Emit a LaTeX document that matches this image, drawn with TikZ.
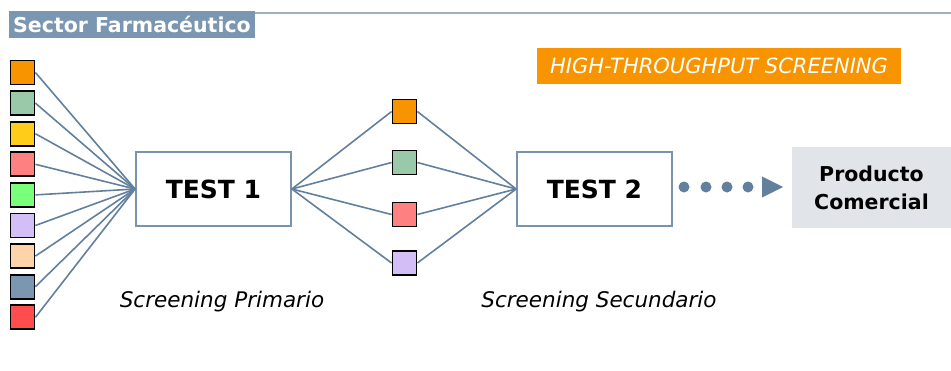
\documentclass[tikz,border=0pt]{standalone}
\usepackage{fontspec}
\setmainfont{DejaVu Sans}
\usetikzlibrary{positioning}

\definecolor{linie}{RGB}{98,128,158}
\definecolor{kopf}{RGB}{122,150,176}
\definecolor{kopflinie}{RGB}{158,176,194}
\definecolor{orange}{RGB}{247,148,0}
\definecolor{graugruen}{RGB}{153,201,168}
\definecolor{gelb}{RGB}{255,204,26}
\definecolor{rosa}{RGB}{255,128,128}
\definecolor{gruen}{RGB}{122,255,122}
\definecolor{lila}{RGB}{211,191,245}
\definecolor{pfirsich}{RGB}{255,211,168}
\definecolor{schiefer}{RGB}{122,150,176}
\definecolor{rot}{RGB}{255,77,77}
\definecolor{produkt}{RGB}{225,229,234}

\begin{document}
\begin{tikzpicture}[x=1pt,y=-1pt,
    probe/.style={draw=black, line width=1.8pt, minimum size=24pt, inner sep=0pt},
    testbox/.style={draw=linie!85, line width=1.8pt, fill=white, minimum width=155pt,
      minimum height=74pt, inner sep=0pt, font=\fontsize{25}{29}\selectfont\bfseries},
    verb/.style={draw=linie, line width=1.6pt},
    etikett/.style={font=\fontsize{21.5}{25}\selectfont\itshape}]

  \useasboundingbox (0,0) rectangle (951,370);

  % Kopfzeile
  \draw[kopflinie, line width=2.5pt] (255,13) -- (951,13);
  \node[fill=kopf, text=white, minimum width=246pt, minimum height=27pt, inner sep=0pt,
    font=\fontsize{20.5}{24}\selectfont\bfseries] (kopf) at (132,24.5) {Sector Farmacéutico};

  \node[fill=orange, text=white, minimum width=364pt, minimum height=36pt, inner sep=0pt,
    font=\fontsize{21}{25}\selectfont\itshape] (hts) at (719,66) {HIGH-THROUGHPUT SCREENING};

  % Tests
  \node[testbox] (test1) at (213.5,189) {TEST 1};
  \node[testbox] (test2) at (594.5,189) {TEST 2};

  \node[fill=produkt, minimum width=159pt, minimum height=81pt, inner sep=0pt, align=center,
    font=\fontsize{20.5}{28}\selectfont\bfseries] (prod) at (871.5,187.5) {Producto\\Comercial};

  % Proben links
  \foreach \farbe [count=\i] in {orange,graugruen,gelb,rosa,gruen,lila,pfirsich,schiefer,rot} {
    \node[probe, fill=\farbe] (sq\i) at (22.5,{72.5+30.6*(\i-1)}) {};
    \draw[verb] (sq\i.east) -- (test1.west);
  }

  % Proben Mitte
  \foreach \farbe/\y [count=\i] in {orange/111.5,graugruen/162.5,rosa/214.5,lila/263} {
    \node[probe, fill=\farbe] (mq\i) at (404.5,\y) {};
    \draw[verb] (test1.east) -- (mq\i.west);
    \draw[verb] (mq\i.east) -- (test2.west);
  }

  % Punkte und Pfeil
  \foreach \x in {684,706,727,748}
    \fill[linie] (\x,187) circle (5.5pt);
  \fill[linie] (762,176.5) -- (783,187) -- (762,197.5) -- cycle;

  \node[etikett] (prim) at (222,302) {Screening Primario};
  \node[etikett] (sek) at (599,302) {Screening Secundario};

\end{tikzpicture}
\end{document}
